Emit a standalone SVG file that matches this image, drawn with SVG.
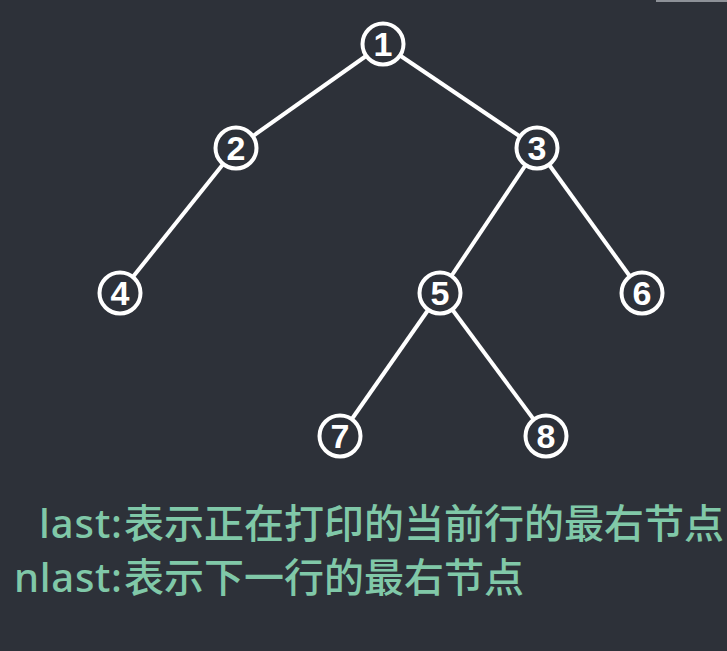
<svg xmlns="http://www.w3.org/2000/svg" width="727" height="651" viewBox="0 0 727 651">
<style>
.bg{fill:#2d3139}
.edge{stroke:#ffffff;stroke-width:4;stroke-linecap:butt;fill:none}
.node circle{fill:#2d3139;stroke:#ffffff;stroke-width:4}
.node text{font-family:"Liberation Sans",Arial,sans-serif;font-weight:bold;font-size:34px;fill:#ffffff;text-anchor:middle}
.note{font-family:"Noto Sans","Noto Sans CJK SC",sans-serif;font-size:40px;font-weight:500;fill:#80c8a8}
</style>
<rect class="bg" x="0" y="0" width="727" height="651"/>
<rect x="656" y="0" width="71" height="2" fill="#8d9198"/>
<g id="connectors">
<line class="edge" x1="383" y1="44" x2="236" y2="148"/>
<line class="edge" x1="383" y1="44" x2="537" y2="148"/>
<line class="edge" x1="236" y1="148" x2="120" y2="293"/>
<line class="edge" x1="537" y1="148" x2="440" y2="293"/>
<line class="edge" x1="537" y1="148" x2="642" y2="293"/>
<line class="edge" x1="440" y1="293" x2="340" y2="436"/>
<line class="edge" x1="440" y1="293" x2="546" y2="436"/>
</g>
<g id="node1" class="node"><circle cx="383" cy="44" r="20.5"/><text x="383" y="56">1</text></g>
<g id="node2" class="node"><circle cx="236" cy="148" r="20.5"/><text x="236" y="160">2</text></g>
<g id="node3" class="node"><circle cx="537" cy="148" r="20.5"/><text x="537" y="160">3</text></g>
<g id="node4" class="node"><circle cx="120" cy="293" r="20.5"/><text x="120" y="305">4</text></g>
<g id="node5" class="node"><circle cx="440" cy="293" r="20.5"/><text x="440" y="305">5</text></g>
<g id="node6" class="node"><circle cx="642" cy="293" r="20.5"/><text x="642" y="305">6</text></g>
<g id="node7" class="node"><circle cx="340" cy="436" r="20.5"/><text x="340" y="448">7</text></g>
<g id="node8" class="node"><circle cx="546" cy="436" r="20.5"/><text x="546" y="448">8</text></g>
<g id="notes">
<text class="note" y="538"><tspan x="39" textLength="83" lengthAdjust="spacing">last:</tspan><tspan x="124">表示正在打印的当前行的最右节点</tspan></text>
<text class="note" y="592"><tspan x="14" textLength="108" lengthAdjust="spacing">nlast:</tspan><tspan x="124">表示下一行的最右节点</tspan></text>
</g>
</svg>
